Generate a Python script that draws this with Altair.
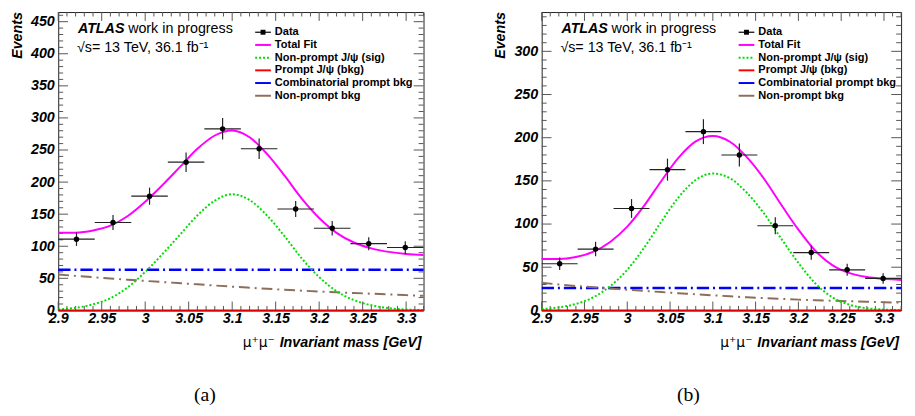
import altair as alt
import pandas as pd

# ---------------- data ----------------
bin_centers = [2.921, 2.963, 3.005, 3.047, 3.089, 3.131, 3.173, 3.215, 3.257, 3.299]
bin_half_width = 0.021

data_a = [111, 137, 178, 231, 283, 252, 158, 128, 104, 98]
err_a = [10.5, 11.7, 13.3, 15.2, 16.8, 15.9, 12.6, 11.3, 10.2, 9.9]
data_b = [54, 71, 118, 163, 207, 180, 98, 67, 47, 37]
err_b = [7.3, 8.4, 10.9, 12.8, 14.4, 13.4, 9.9, 8.2, 6.9, 6.1]

curve_x = [2.90, 2.92, 2.94, 2.96, 2.98, 3.00, 3.02, 3.04, 3.06, 3.08, 3.10,
           3.12, 3.14, 3.16, 3.18, 3.20, 3.22, 3.24, 3.26, 3.28, 3.30, 3.32]

total_a = [121.0, 121.2, 124.6, 132.1, 147.2, 169.4, 195.6, 223.6, 251.8, 272.6, 280.4,
           269.9, 243.9, 210.4, 174.2, 144.0, 120.9, 105.8, 96.7, 91.2, 88.0, 86.4]
sig_a = [1.6, 4.0, 9.5, 19.0, 36.0, 60.0, 88.0, 118.0, 148.0, 171.0, 181.0,
         172.0, 148.0, 116.0, 81.0, 52.0, 30.0, 16.0, 8.0, 3.5, 1.3, 0.5]
prompt_a = [0.0, 0.0, 0.0, 0.0, 0.0, 0.0, 0.0, 0.0, 0.0, 0.0, 0.0,
            0.0, 0.0, 0.0, 0.0, 0.0, 0.0, 0.0, 0.0, 0.0, 0.0, 0.0]
comb_a = [63.4, 63.4, 63.4, 63.4, 63.4, 63.4, 63.4, 63.4, 63.4, 63.4, 63.4,
          63.4, 63.4, 63.4, 63.4, 63.4, 63.4, 63.4, 63.4, 63.4, 63.4, 63.4]
nonprompt_a = [56.0, 53.8, 51.7, 49.7, 47.8, 46.0, 44.2, 42.4, 40.6, 38.8, 37.0,
               35.3, 33.7, 32.2, 30.8, 29.5, 28.3, 27.1, 26.0, 24.9, 23.8, 22.8]

total_b = [59.5, 59.5, 61.8, 67.8, 79.3, 97.0, 121.6, 150.2, 176.9, 195.7, 202.0,
           195.3, 177.2, 152.2, 122.3, 93.5, 68.8, 52.2, 43.1, 38.6, 36.5, 35.3]
sig_b = [1.5, 3.5, 7.5, 15.0, 28.0, 47.0, 73.0, 103.0, 131.0, 151.0, 158.5,
         153.0, 136.0, 112.0, 83.0, 55.0, 31.0, 15.0, 6.5, 2.5, 1.0, 0.3]
prompt_b = [0.0, 0.0, 0.0, 0.0, 0.0, 0.0, 0.0, 0.0, 0.0, 0.0, 0.0,
            0.0, 0.0, 0.0, 0.0, 0.0, 0.0, 0.0, 0.0, 0.0, 0.0, 0.0]
comb_b = [26.0, 26.0, 26.0, 26.0, 26.0, 26.0, 26.0, 26.0, 26.0, 26.0, 26.0,
          26.0, 26.0, 26.0, 26.0, 26.0, 26.0, 26.0, 26.0, 26.0, 26.0, 26.0]
nonprompt_b = [32.0, 30.0, 28.3, 26.8, 25.3, 24.0, 22.6, 21.2, 19.9, 18.7, 17.5,
               16.3, 15.2, 14.2, 13.3, 12.5, 11.8, 11.2, 10.6, 10.1, 9.5, 9.0]

x_major = [2.9, 2.95, 3.0, 3.05, 3.1, 3.15, 3.2, 3.25, 3.3]
x_minor = [round(2.90 + 0.01 * i, 2) for i in range(43)]
y_major_a = [0, 50, 100, 150, 200, 250, 300, 350, 400, 450]
y_minor_a = [10 * i for i in range(47)]
y_major_b = [0, 50, 100, 150, 200, 250, 300]
y_minor_b = [10 * i for i in range(35)]

legend_labels = ["Data", "Total Fit", "Non-prompt J/\u03c8 (sig)", "Prompt J/\u03c8 (bkg)",
                 "Combinatorial prompt bkg", "Non-prompt bkg"]
legend_colors = ["black", "#ff00ff", "#00dd00", "#ff0000", "#0000ff", "#8d6e5a"]

FONT = "Liberation Sans"
H = 303


def panel(W, ymax, counts, errs, total, sig, prompt, comb, nonprompt,
          y_major, y_minor, caption):
    xs = alt.Scale(domain=[2.9, 3.32], nice=False, zero=False)
    ys = alt.Scale(domain=[0, ymax], nice=False, zero=False)
    xaxis = alt.Axis(values=x_major, format="~g", labelFont=FONT, labelFontSize=14.5,
                     labelFontWeight="bold", labelFontStyle="italic", labelColor="black",
                     labelPadding=1, domain=False, ticks=False, tickSize=0, grid=False,
                     title=None, labelFlush=False, labelOverlap=False, labelBound=False)
    yaxis = alt.Axis(values=y_major, format="d", labelFont=FONT, labelFontSize=14.5,
                     labelFontWeight="bold", labelFontStyle="italic", labelColor="black",
                     labelPadding=4, domain=False, ticks=False, tickSize=0, grid=False,
                     title=None, labelFlush=False, labelOverlap=False, labelBound=False)
    X = lambda f: alt.X(f, scale=xs, axis=xaxis)
    Y = lambda f: alt.Y(f, scale=ys, axis=yaxis)

    cdf = pd.DataFrame({"m": curve_x, "total": total, "sig": sig, "prompt": prompt,
                        "comb": comb, "nonprompt": nonprompt})
    pdf = pd.DataFrame({"m": bin_centers, "n": counts, "e": errs})
    pdf["lo"] = pdf["n"] - pdf["e"]
    pdf["hi"] = pdf["n"] + pdf["e"]
    pdf["xl"] = pdf["m"] - bin_half_width
    pdf["xr"] = pdf["m"] + bin_half_width

    ymaj = pd.DataFrame({"v": y_major})
    ymin = pd.DataFrame({"v": [v for v in y_minor if v not in y_major and v < ymax]})
    xmaj = pd.DataFrame({"v": x_major})
    xmin = pd.DataFrame({"v": [v for v in x_minor if round(v * 100) % 5 != 0]})

    tc = "#555555"
    layers = []
    # ticks, inside the frame on all four sides
    for df, L in ((ymaj, 10), (ymin, 5)):
        layers.append(alt.Chart(df).mark_rule(color=tc, strokeWidth=1).encode(
            y=Y("v:Q"), x=alt.value(0), x2=alt.value(L)))
        layers.append(alt.Chart(df).mark_rule(color=tc, strokeWidth=1).encode(
            y=Y("v:Q"), x=alt.value(W - L), x2=alt.value(W)))
    for df, L in ((xmaj, 9), (xmin, 4.5)):
        layers.append(alt.Chart(df).mark_rule(color=tc, strokeWidth=1).encode(
            x=X("v:Q"), y=alt.value(H), y2=alt.value(H - L)))
        layers.append(alt.Chart(df).mark_rule(color=tc, strokeWidth=1).encode(
            x=X("v:Q"), y=alt.value(0), y2=alt.value(L)))

    base = alt.Chart(cdf)
    layers += [
        base.mark_line(color="#0000ff", strokeWidth=2.5, strokeDash=[12.5, 4, 2, 4]).encode(
            x=X("m:Q"), y=Y("comb:Q")),
        base.mark_line(color="#8d6e5a", strokeWidth=2, strokeDash=[11, 5, 2, 5],
                       interpolate="monotone").encode(x=X("m:Q"), y=Y("nonprompt:Q")),
        base.mark_line(color="#00dd00", strokeWidth=2, strokeDash=[2, 2],
                       interpolate="monotone").encode(x=X("m:Q"), y=Y("sig:Q")),
        base.mark_line(color="#dd0000", strokeWidth=2).encode(x=X("m:Q"), y=Y("prompt:Q")),
        base.mark_line(color="#ff00ff", strokeWidth=2,
                       interpolate="monotone").encode(x=X("m:Q"), y=Y("total:Q")),
    ]

    pts = alt.Chart(pdf)
    layers += [
        pts.mark_rule(color="#222222", strokeWidth=1.2).encode(
            x=X("xl:Q"), x2="xr:Q", y=Y("n:Q")),
        pts.mark_rule(color="#222222", strokeWidth=1.2).encode(
            x=X("m:Q"), y=Y("lo:Q"), y2="hi:Q"),
        pts.mark_circle(color="black", opacity=1, size=30).encode(x=X("m:Q"), y=Y("n:Q")),
    ]

    one = pd.DataFrame({"k": [0]})

    def txt(s, x, y, **kw):
        return alt.Chart(one).mark_text(text=s, **kw).encode(x=alt.value(x), y=alt.value(y))

    # ATLAS label
    layers += [
        txt("ATLAS", 20, 17, font=FONT, fontSize=14.5, fontWeight="bold", fontStyle="italic",
            align="left", baseline="middle", color="black"),
        txt("work in progress", 71, 17, font=FONT, fontSize=14.5, align="left",
            baseline="middle", color="black"),
        txt("\u221as= 13 TeV, 36.1 fb\u207b\u00b9", 19, 37, font=FONT, fontSize=14.5,
            align="left", baseline="middle", color="black"),
    ]

    # legend
    ly0, dly = 20.5, 12.9
    styles = [dict(), dict(), dict(strokeDash=[2, 2]), dict(), dict(), dict()]
    for i, (lab, col) in enumerate(zip(legend_labels, legend_colors)):
        yy = ly0 + dly * i
        layers.append(alt.Chart(one).mark_rule(color=col, strokeWidth=2 if i else 1.2,
                                               **styles[i]).encode(
            x=alt.value(200), x2=alt.value(216), y=alt.value(yy)))
        layers.append(txt(lab, 220, yy, font=FONT, fontSize=11.2, fontWeight="bold",
                          align="left", baseline="middle", color="black"))
    layers.append(alt.Chart(one).mark_square(color="black", opacity=1, size=25).encode(
        x=alt.value(208), y=alt.value(ly0)))

    # axis titles and caption
    layers += [
        txt("Invariant mass [GeV]", W - 2, H + 33.5, font=FONT, fontSize=14.5,
            fontWeight="bold", fontStyle="italic", align="right", baseline="middle",
            color="black"),
        txt("\u03bc\u207a\u03bc\u207b", W - 151, H + 33.5, font="DejaVu Sans", fontSize=14,
            align="right", baseline="middle", color="black"),
        txt("Events", -41, 0, font=FONT, fontSize=14.5, fontWeight="bold",
            fontStyle="italic", angle=270, align="right", baseline="middle", color="black"),
        txt(caption, 149, H + 85.5, font="Liberation Serif", fontSize=20, align="center",
            baseline="middle", color="black"),
    ]
    return alt.layer(*layers).properties(width=W, height=H)


pa = panel(371, 465, data_a, err_a, total_a, sig_a, prompt_a, comb_a, nonprompt_a,
           y_major_a, y_minor_a, "(a)")
pb = panel(365, 345.5, data_b, err_b, total_b, sig_b, prompt_b, comb_b, nonprompt_b,
           y_major_b, y_minor_b, "(b)")

chart = alt.hconcat(pa, pb, spacing=64).properties(
    padding={"left": 1, "top": 0, "right": 0, "bottom": 0},
    background="white",
).configure_view(stroke="#222222", strokeWidth=1)

chart.save("out.html", embed_options={"renderer": "svg", "actions": False})
